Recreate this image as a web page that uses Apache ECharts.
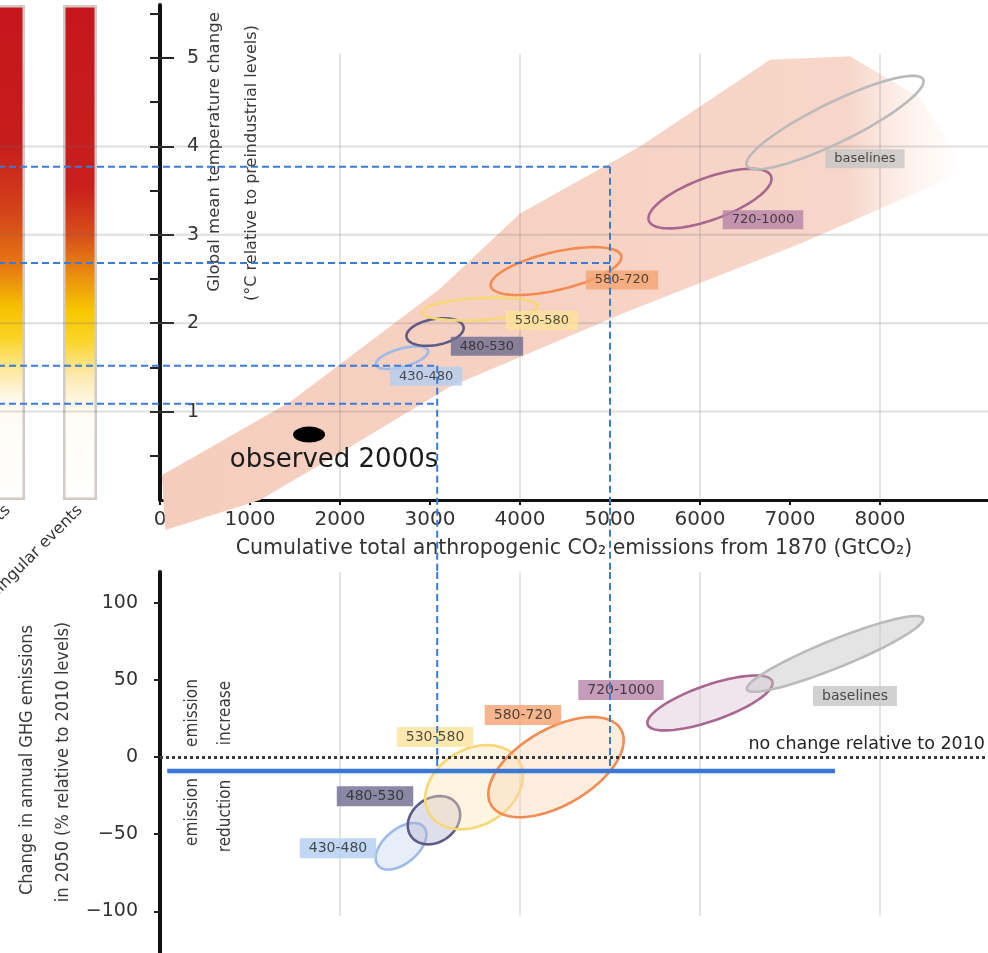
<!DOCTYPE html>
<html>
<head>
<meta charset="utf-8">
<script src="https://cdn.jsdelivr.net/npm/echarts@6/dist/echarts.min.js"></script>
<style>
    html, body { margin: 0; padding: 0; background: #fff; }
    #chart { width: 988px; height: 953px; }
</style>
</head>
<body>
<div id="chart"></div>
<script>
// ---- data ----
const riskNames = ['Global aggregate impacts', 'Large-scale singular events'];
const riskTop = [5.6, 5.6];

const scenarios = ['430-480', '480-530', '530-580', '580-720', '720-1000', 'baselines'];

// upper panel: ellipse centre (GtCO2, °C) plus semi-axis vectors in data units
const tempCx = [2689, 3056, 3556, 4400, 6111, 7500];
const tempCy = [1.61, 1.90, 2.16, 2.59, 3.41, 4.27];
const tempMajor = [[290, 0.080], [317, 0.057], [644, 0.034], [725, 0.171], [679, 0.252], [979, 0.488]];
const tempMinor = [[26, -0.099], [25, -0.145], [6, -0.125], [47, -0.210], [80, -0.224], [97, -0.204]];
const tempLabelX = [2956, 3633, 4244, 5133, 6700, 7833];
const tempLabelY = [1.40, 1.74, 2.03, 2.49, 3.17, 3.86];

// lower panel: ellipse centre (GtCO2, % change) plus semi-axis vectors
const ghgCx = [2678, 3044, 3489, 4400, 6111, 7500];
const ghgCy = [-57.8, -40.9, -19.5, -6.5, 35.1, 66.9];
const ghgMajor = [[255, 12.5], [255, 10.4], [500, 16.9], [722, 24.4], [693, 14.0], [979, 23.1]];
const ghgMinor = [[121, -8.5], [140, -11.7], [211, -21.4], [211, -21.4], [65, -11.0], [58, -8.4]];
const ghgLabelX = [1978, 2389, 3056, 4033, 5122, 7722];
const ghgLabelY = [-59.1, -25.3, 13.0, 27.3, 43.5, 39.6];

// model spread (shaded band) outline
const bandX = [20, 1444, 3111, 4000, 5333, 6778, 7667, 8444, 8889, 8778, 7111, 5189, 3222, 2111, 1111, 60];
const bandY = [0.28, 1.11, 2.39, 3.24, 4.00, 4.98, 5.02, 4.55, 3.86, 3.64, 2.90, 2.13, 1.28, 0.60, 0.00, -0.34];

const observedX = [1656];
const observedY = [0.74];

// dashed read-across guides
const guideLevels = [3.77, 2.68, 1.52, 1.09];
const guideEnds = [5000, 5000, 3080, 3080];
const guideDropX = [5000, 3080];
const guideDropTop = [3.77, 1.52];
const guideLeft = -1800;
const panelGap = -0.82;        // bottom of the gap under the upper panel, °C units
const ghgTopValue = 120;

const noChange = 0;
const blueLevel = -9;
const blueStart = 80;
const blueEnd = 7500;

// tick labels
const xTicks = [0, 1000, 2000, 3000, 4000, 5000, 6000, 7000, 8000];
const tempTicks = [1, 2, 3, 4, 5];
const tempHalfTicks = [0.5, 1, 1.5, 2, 2.5, 3, 3.5, 4, 4.5, 5, 5.5];
const ghgTicks = [-100, -50, 0, 50, 100];
const gridRows = [1, 2, 3, 4];
const gridCols = [2000, 4000, 6000, 8000];
const gridColTop = 5.05;
const ghgGridTop = 120;
const ghgGridBottom = -103;

// ---- styles ----
const font = 'DejaVu Sans';
const fontCond = 'DejaVu Sans Condensed';
const strokes = ['#9dbbe8', '#5d5b86', '#f8d776', '#f28c52', '#a8678f', '#bababa'];
const fills = ['rgba(205,218,242,0.45)', 'rgba(175,175,205,0.4)', 'rgba(252,230,180,0.4)',
    'rgba(250,210,180,0.4)', 'rgba(220,190,210,0.4)', 'rgba(195,195,195,0.45)'];
const labelBg = ['#b3cdf0', '#6d6a8e', '#fde49a', '#f4a36f', '#b783a8', '#c6c6c6'];
const guideColor = '#3b7bd8';

const riskColors = [
    new echarts.graphic.LinearGradient(0, 0, 0, 1, [
        { offset: 0, color: '#c5161d' }, { offset: 0.28, color: '#c71c1c' },
        { offset: 0.42, color: '#d4441a' }, { offset: 0.53, color: '#e77a12' },
        { offset: 0.61, color: '#f6c000' }, { offset: 0.67, color: '#fad320' },
        { offset: 0.74, color: '#fde9a0' }, { offset: 0.80, color: '#fffaf2' },
        { offset: 1, color: '#ffffff' }
    ]),
    new echarts.graphic.LinearGradient(0, 0, 0, 1, [
        { offset: 0, color: '#c5161d' }, { offset: 0.37, color: '#c8201c' },
        { offset: 0.47, color: '#d8521a' }, { offset: 0.55, color: '#ec9210' },
        { offset: 0.62, color: '#f8c800' }, { offset: 0.68, color: '#fad52a' },
        { offset: 0.75, color: '#fdeab0' }, { offset: 0.82, color: '#fffbf4' },
        { offset: 1, color: '#ffffff' }
    ])
];

function ellipseSeries(xi, yi, cx, cy, major, minor, filled) {
    return {
        type: 'custom',
        xAxisIndex: xi,
        yAxisIndex: yi,
        z: 3,
        silent: true,
        data: cx.map((x, i) => [x, cy[i], major[i][0], major[i][1], minor[i][0], minor[i][1]]),
        renderItem: function (params, api) {
            const pts = [];
            for (let k = 0; k < 96; k++) {
                const t = k / 96 * Math.PI * 2;
                pts.push(api.coord([
                    api.value(0) + api.value(2) * Math.cos(t) + api.value(4) * Math.sin(t),
                    api.value(1) + api.value(3) * Math.cos(t) + api.value(5) * Math.sin(t)
                ]));
            }
            return {
                type: 'polygon',
                shape: { points: pts },
                style: {
                    fill: filled ? fills[params.dataIndex] : 'none',
                    stroke: strokes[params.dataIndex],
                    lineWidth: 2.6
                }
            };
        }
    };
}

function labelSeries(xi, yi, xs, ys, size) {
    return {
        type: 'scatter',
        xAxisIndex: xi,
        yAxisIndex: yi,
        z: 5,
        silent: true,
        symbol: 'rect',
        symbolSize: 1,
        itemStyle: { color: 'rgba(0,0,0,0)' },
        data: xs.map((x, i) => ({
            name: scenarios[i],
            value: [x, ys[i]],
            label: { backgroundColor: labelBg[i] }
        })),
        label: {
            show: true,
            position: 'inside',
            formatter: '{b}',
            fontFamily: font,
            fontSize: size,
            color: '#262626',
            padding: [3, 9]
        }
    };
}

// straight pieces drawn through the axes; not clipped so they can run past the plot edge
function pathSeries(xi, yi, paths, color, width, dash, z) {
    return {
        type: 'custom',
        xAxisIndex: xi,
        yAxisIndex: yi,
        z: z,
        silent: true,
        clip: false,
        data: paths.map((p, i) => [i]),
        renderItem: function (params, api) {
            const p = paths[params.dataIndex];
            return {
                type: 'polyline',
                shape: { points: p.map(pt => api.coord(pt)) },
                style: { stroke: color, lineWidth: width, lineDash: dash, fill: 'none' }
            };
        }
    };
}

const guidePathsTop = guideLevels.map((lvl, i) => [[guideLeft, lvl], [guideEnds[i], lvl]])
    .concat(guideDropX.map((x, i) => [[x, guideDropTop[i]], [x, panelGap]]));
const guidePathsBottom = guideDropX.map(x => [[x, ghgTopValue], [x, blueLevel]]);

const series = [
    {
        type: 'bar',
        xAxisIndex: 0,
        yAxisIndex: 0,
        z: 1,
        barWidth: 34,
        silent: true,
        data: riskTop.map((v, i) => ({
            value: v,
            itemStyle: { color: riskColors[i], borderColor: '#d3cac6', borderWidth: 2.5 }
        }))
    },
    {
        type: 'custom',
        xAxisIndex: 1,
        yAxisIndex: 1,
        z: 1,
        silent: true,
        clip: false,
        data: [[0, 0]],
        renderItem: function (params, api) {
            const pts = bandX.map((x, i) => api.coord([x, bandY[i]]));
            return {
                type: 'polygon',
                shape: { points: pts },
                style: {
                    fill: new echarts.graphic.LinearGradient(0, 0, 1, 0, [
                        { offset: 0, color: '#f5cdbd' },
                        { offset: 0.86, color: '#f7d6c9' },
                        { offset: 1, color: 'rgba(255,240,234,0.1)' }
                    ])
                }
            };
        }
    },
    pathSeries(1, 1, gridRows.map(v => [[guideLeft, v], [9200, v]]), 'rgba(110,110,110,0.22)', 2, null, 2),
    pathSeries(1, 1, gridCols.map(v => [[v, 0], [v, gridColTop]]), 'rgba(110,110,110,0.18)', 2, null, 2),
    pathSeries(2, 3, gridCols.map(v => [[v, ghgGridBottom], [v, ghgGridTop]]), 'rgba(110,110,110,0.18)', 2, null, 2),
    ellipseSeries(1, 1, tempCx, tempCy, tempMajor, tempMinor, false),
    labelSeries(1, 1, tempLabelX, tempLabelY, 13),
    {
        type: 'scatter',
        xAxisIndex: 1,
        yAxisIndex: 1,
        z: 4,
        silent: true,
        symbol: 'circle',
        symbolSize: [32, 16],
        itemStyle: { color: '#000', opacity: 1 },
        data: observedX.map((x, i) => [x, observedY[i]]),
        label: {
            show: true,
            position: 'bottom',
            distance: 5,
            offset: [25, 0],
            formatter: 'observed 2000s',
            fontFamily: font,
            fontSize: 26,
            color: '#1a1a1a',
            opacity: 1
        }
    },
    ellipseSeries(2, 3, ghgCx, ghgCy, ghgMajor, ghgMinor, true),
    labelSeries(2, 3, ghgLabelX, ghgLabelY, 14),
    {
        type: 'line',
        xAxisIndex: 2,
        yAxisIndex: 3,
        z: 6,
        silent: true,
        symbol: 'none',
        data: [[blueStart, blueLevel], [blueEnd, blueLevel]],
        lineStyle: { color: '#3b78d6', width: 4.5 },
        markLine: {
            silent: true,
            symbol: 'none',
            data: [{ yAxis: noChange }],
            lineStyle: { color: '#3a3a3a', width: 3, type: [3, 3] },
            label: {
                position: 'insideEndTop',
                formatter: 'no change relative to 2010',
                fontFamily: font,
                fontSize: 17.5,
                color: '#222',
                distance: [3, 4]
            }
        }
    },
    pathSeries(1, 1, guidePathsTop, guideColor, 2, [7, 4], 8),
    pathSeries(2, 3, guidePathsBottom, guideColor, 2, [7, 4], 8)
];

const axisText = { fontFamily: font, color: '#333' };

const option = {
    animation: false,
    backgroundColor: '#fff',
    grid: [
        { left: -28, width: 144, top: 5, height: 495, containLabel: false, outerBoundsMode: 'none' },
        { left: 160, right: 0, top: 5, height: 495, containLabel: false, outerBoundsMode: 'none' },
        { left: 160, right: 0, top: 572, height: 381, containLabel: false, outerBoundsMode: 'none' }
    ],
    xAxis: [
        {
            gridIndex: 0,
            type: 'category',
            data: riskNames,
            axisLine: { show: false },
            axisTick: { show: false },
            axisLabel: Object.assign({ rotate: 45, interval: 0, margin: 8, fontSize: 16 }, axisText)
        },
        {
            gridIndex: 1,
            type: 'value',
            min: 0,
            max: 9200,
            interval: 1000,
            splitLine: { show: false },
            axisLine: { lineStyle: { color: '#111', width: 3 } },
            axisTick: { customValues: xTicks, length: 5, lineStyle: { color: '#111', width: 2 } },
            axisLabel: Object.assign({
                customValues: xTicks, fontSize: 20, margin: 10,
                formatter: v => String(v)
            }, axisText),
            name: 'Cumulative total anthropogenic CO₂ emissions from 1870 (GtCO₂)',
            nameLocation: 'middle',
            nameGap: 38,
            nameTextStyle: { fontFamily: font, fontSize: 20.5, color: '#333' }
        },
        {
            gridIndex: 2,
            type: 'value',
            min: 0,
            max: 9200,
            show: false
        }
    ],
    yAxis: [
        { gridIndex: 0, type: 'value', min: 0, max: 5.6, show: false },
        {
            gridIndex: 1,
            type: 'value',
            position: 'left',
            min: 0,
            max: 5.6,
            splitLine: { show: false },
            axisLine: { lineStyle: { color: '#111', width: 4 } },
            axisTick: { customValues: tempHalfTicks, length: 10, lineStyle: { color: '#222', width: 2 } },
            axisLabel: { show: false }
        },
        {
            gridIndex: 1,
            type: 'value',
            position: 'left',
            min: 0,
            max: 5.6,
            splitLine: { show: false },
            axisLine: { show: false },
            axisTick: { inside: true, customValues: tempTicks, length: 14, lineStyle: { color: '#222', width: 2 } },
            axisLabel: Object.assign({ inside: true, customValues: tempTicks, margin: 27, fontSize: 19 }, axisText)
        },
        {
            gridIndex: 2,
            type: 'value',
            min: -127,
            max: 120,
            splitLine: { show: false },
            axisLine: { lineStyle: { color: '#111', width: 4 } },
            axisTick: { customValues: ghgTicks, length: 6, lineStyle: { color: '#222', width: 2 } },
            axisLabel: Object.assign({
                customValues: ghgTicks,
                margin: 22,
                fontSize: 19,
                formatter: v => (v < 0 ? '−' + (-v) : String(v))
            }, axisText)
        }
    ],
    graphic: [
        { type: 'text', x: 215, y: 152, rotation: Math.PI / 2, silent: true,
          style: { text: 'Global mean temperature change', fontFamily: font, fontSize: 16.5, fill: '#3a3a3a', align: 'center', verticalAlign: 'middle' } },
        { type: 'text', x: 252, y: 163, rotation: Math.PI / 2, silent: true,
          style: { text: '(°C relative to preindustrial levels)', fontFamily: font, fontSize: 16, fill: '#3a3a3a', align: 'center', verticalAlign: 'middle' } },
        { type: 'text', x: 27, y: 760, rotation: Math.PI / 2, silent: true,
          style: { text: 'Change in annual GHG emissions', fontFamily: fontCond, fontSize: 18, fill: '#3a3a3a', align: 'center', verticalAlign: 'middle' } },
        { type: 'text', x: 63, y: 762, rotation: Math.PI / 2, silent: true,
          style: { text: 'in 2050 (% relative to 2010 levels)', fontFamily: fontCond, fontSize: 18, fill: '#3a3a3a', align: 'center', verticalAlign: 'middle' } },
        { type: 'text', x: 193, y: 713, rotation: Math.PI / 2, silent: true,
          style: { text: 'emission', fontFamily: fontCond, fontSize: 17, fill: '#3a3a3a', align: 'center', verticalAlign: 'middle' } },
        { type: 'text', x: 226, y: 713, rotation: Math.PI / 2, silent: true,
          style: { text: 'increase', fontFamily: fontCond, fontSize: 17, fill: '#3a3a3a', align: 'center', verticalAlign: 'middle' } },
        { type: 'text', x: 193, y: 812, rotation: Math.PI / 2, silent: true,
          style: { text: 'emission', fontFamily: fontCond, fontSize: 17, fill: '#3a3a3a', align: 'center', verticalAlign: 'middle' } },
        { type: 'text', x: 226, y: 816, rotation: Math.PI / 2, silent: true,
          style: { text: 'reduction', fontFamily: fontCond, fontSize: 17, fill: '#3a3a3a', align: 'center', verticalAlign: 'middle' } }
    ],
    series: series
};

const chart = echarts.init(document.getElementById('chart'));
chart.setOption(option);
</script>
</body>
</html>
